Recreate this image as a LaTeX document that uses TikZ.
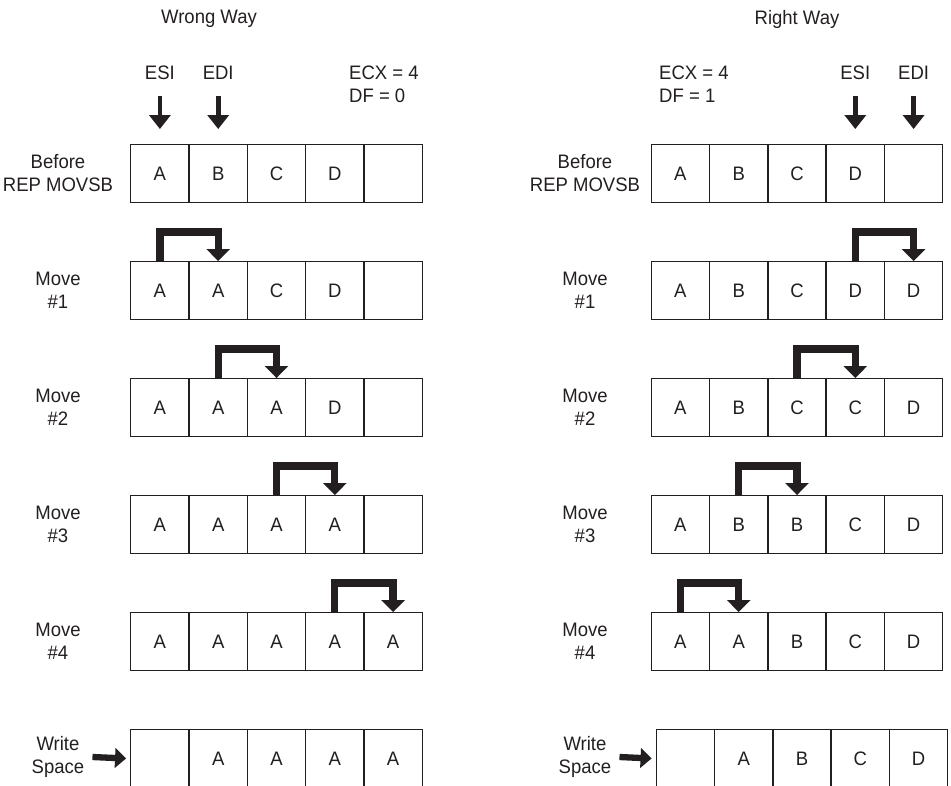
\documentclass[tikz,border=0pt]{standalone}
\usepackage{fontspec}
\setmainfont{Liberation Sans}[FakeStretch=0.95]
\usetikzlibrary{matrix,arrows.meta}
\definecolor{ink}{RGB}{35,31,32}

\begin{document}
\begin{tikzpicture}[x=1pt, y=-1pt, every node/.style={font=\fontsize{19.5}{23}\selectfont, text=ink, inner sep=0pt},
	memrow/.style={matrix of nodes, ampersand replacement=\&, nodes in empty cells, nodes={draw=ink, line width=1.4pt, minimum width=58.3pt, minimum height=57.5pt, anchor=center}, column sep=-1.4pt},
	rowlabel/.style={align=center},
	ptr/.style={draw=ink, line width=4.7pt, -{Triangle[length=14pt, width=21pt]}},
	hop/.style={draw=ink, line width=7.3pt, -{Triangle[length=12pt, width=23pt]}},
	feed/.style={draw=ink, line width=6.3pt, -{Triangle[length=11pt, width=19.5pt]}}]
	\useasboundingbox (0,0) rectangle (951,786);
	% memory rows, wrong way (L) and right way (R)
	\foreach \m/\x/\y/\ca/\cb/\cc/\cd/\ce in {L0/276.5/173.5/A/B/C/D/{}, L1/276.5/290.5/A/A/C/D/{}, L2/276.5/407.5/A/A/A/D/{}, L3/276.5/524.5/A/A/A/A/{}, L4/276.5/641.5/A/A/A/A/A, L5/276.5/758.5/{}/A/A/A/A,
		R0/797/173.5/A/B/C/D/{}, R1/797/290.5/A/B/C/D/D, R2/797/407.5/A/B/C/C/D, R3/797/524.5/A/B/B/C/D, R4/797/641.5/A/A/B/C/D, R5/802/758.5/{}/A/B/C/D}
		\matrix (\m) [memrow] at (\x,\y) {\ca \& \cb \& \cc \& \cd \& \ce \\};
	% row labels
	\foreach \s/\x in {L/58, R/585}{
		\node[rowlabel] (\s lab0) at (\x,173.5) {Before\\REP MOVSB};
		\foreach \k in {1,...,4}
			\node[rowlabel] (\s lab\k) at (\x,173.5+117*\k) {Move\\\#\k};
		\node[rowlabel] (\s lab5) at (\x,757) {Write\\Space};
		\draw[feed] ([xshift=8pt]\s lab5.east) -- ([xshift=-4pt]\s5-1-1.west);
	}
	\node (wrong) at (209,19) {Wrong Way};
	\node (right) at (797,19) {Right Way};
	% registers
	\node[anchor=west, align=left] (lreg) at (349,84.5) {ECX = 4\\DF = 0};
	\node[anchor=west, align=left] (rreg) at (659,84.5) {ECX = 4\\DF = 1};
	\node (lesi) at (L0-1-1 |- 0,73) {ESI};
	\node (ledi) at (L0-1-2 |- 0,73) {EDI};
	\node (resi) at (R0-1-4 |- 0,73) {ESI};
	\node (redi) at (R0-1-5 |- 0,73) {EDI};
	\draw[ptr] ([yshift=-16pt]lesi.south) -- ([yshift=15pt]L0-1-1.north);
	\draw[ptr] ([yshift=-16pt]ledi.south) -- ([yshift=15pt]L0-1-2.north);
	\draw[ptr] ([yshift=-16pt]resi.south) -- ([yshift=15pt]R0-1-4.north);
	\draw[ptr] ([yshift=-16pt]redi.south) -- ([yshift=15pt]R0-1-5.north);
	% byte moves
	\foreach \k in {1,...,4}{
		\pgfmathtruncatemacro\n{\k+1}
		\pgfmathtruncatemacro\a{5-\k}
		\pgfmathtruncatemacro\b{6-\k}
		\draw[hop] (L\k-1-\k.north) |- ([yshift=29pt]L\k-1-\n.north) -- (L\k-1-\n.north);
		\draw[hop] (R\k-1-\a.north) |- ([yshift=29pt]R\k-1-\b.north) -- (R\k-1-\b.north);
	}
\end{tikzpicture}
\end{document}
